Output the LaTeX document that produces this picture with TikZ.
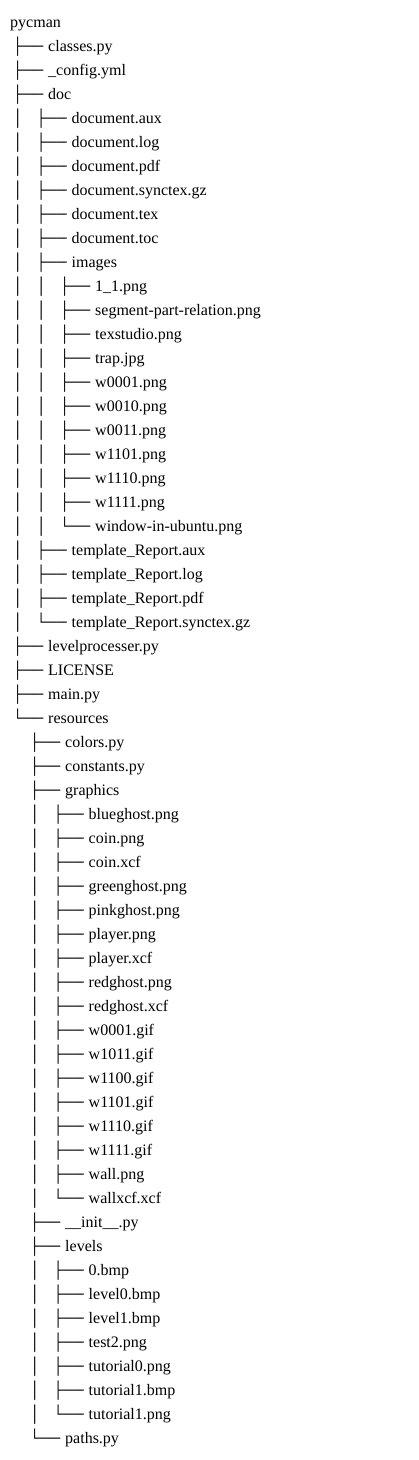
\documentclass[tikz,border=0pt]{standalone}
\usepackage{fontspec}
\setmainfont{Liberation Serif}
\usepackage{graphicx}
\usepackage{tikz}
\usetikzlibrary{positioning}

% pieces of the tree prefix
\newcommand{\tv}{\makebox[23.5pt][l]{\hspace*{2pt}│}}
\newcommand{\ts}{\hspace*{17pt}}
\newcommand{\tb}{\makebox[38pt][l]{\hspace*{2.5pt}\scalebox{0.9}[1]{├──}}}
\newcommand{\tl}{\makebox[38pt][l]{\hspace*{2.5pt}\scalebox{0.9}[1]{└──}}}

\begin{document}
\begin{tikzpicture}[x=1pt,y=1pt,
	entry/.style={anchor=base west,inner sep=0pt,font=\fontsize{16}{24}\selectfont}]
			\begingroup
			\useasboundingbox[fill=white] (0,0) rectangle (418,-1460);
			
			\node[entry] (pycman) at (10, -27) {pycman};
			\node[entry] (classes) at (10, -51) {\tb classes.py};
			\node[entry] (config) at (10, -75) {\tb \_config.yml};
			\node[entry] (doc) at (10, -99) {\tb doc};
			\node[entry] (docaux) at (10, -123) {\tv\tb document.aux};
			\node[entry] (doclog) at (10, -147) {\tv\tb document.log};
			\node[entry] (docpdf) at (10, -171) {\tv\tb document.pdf};
			\node[entry] (docsync) at (10, -195) {\tv\tb document.synctex.gz};
			\node[entry] (doctex) at (10, -219) {\tv\tb document.tex};
			\node[entry] (doctoc) at (10, -243) {\tv\tb document.toc};
			\node[entry] (images) at (10, -267) {\tv\tb images};
			\node[entry] (imgone) at (10, -291) {\tv\tv\tb 1\_1.png};
			\node[entry] (imgseg) at (10, -315) {\tv\tv\tb segment-part-relation.png};
			\node[entry] (imgtex) at (10, -339) {\tv\tv\tb texstudio.png};
			\node[entry] (imgtrap) at (10, -363) {\tv\tv\tb trap.jpg};
			\node[entry] (imgw0001) at (10, -387) {\tv\tv\tb w0001.png};
			\node[entry] (imgw0010) at (10, -411) {\tv\tv\tb w0010.png};
			\node[entry] (imgw0011) at (10, -435) {\tv\tv\tb w0011.png};
			\node[entry] (imgw1101) at (10, -459) {\tv\tv\tb w1101.png};
			\node[entry] (imgw1110) at (10, -483) {\tv\tv\tb w1110.png};
			\node[entry] (imgw1111) at (10, -507) {\tv\tv\tb w1111.png};
			\node[entry] (imgwin) at (10, -531) {\tv\tv\tl window-in-ubuntu.png};
			\node[entry] (tplaux) at (10, -555) {\tv\tb template\_Report.aux};
			\node[entry] (tpllog) at (10, -579) {\tv\tb template\_Report.log};
			\node[entry] (tplpdf) at (10, -603) {\tv\tb template\_Report.pdf};
			\node[entry] (tplsync) at (10, -627) {\tv\tl template\_Report.synctex.gz};
			\node[entry] (levelproc) at (10, -651) {\tb levelprocesser.py};
			\node[entry] (license) at (10, -675) {\tb LICENSE};
			\node[entry] (mainpy) at (10, -699) {\tb main.py};
			\node[entry] (resources) at (10, -723) {\tl resources};
			\node[entry] (colors) at (10, -747) {\ts\tb colors.py};
			\node[entry] (constants) at (10, -771) {\ts\tb constants.py};
			\node[entry] (graphics) at (10, -795) {\ts\tb graphics};
			\node[entry] (blueghost) at (10, -819) {\ts\tv\tb blueghost.png};
			\node[entry] (coinpng) at (10, -843) {\ts\tv\tb coin.png};
			\node[entry] (coinxcf) at (10, -867) {\ts\tv\tb coin.xcf};
			\node[entry] (greenghost) at (10, -891) {\ts\tv\tb greenghost.png};
			\node[entry] (pinkghost) at (10, -915) {\ts\tv\tb pinkghost.png};
			\node[entry] (playerpng) at (10, -939) {\ts\tv\tb player.png};
			\node[entry] (playerxcf) at (10, -963) {\ts\tv\tb player.xcf};
			\node[entry] (redghostpng) at (10, -987) {\ts\tv\tb redghost.png};
			\node[entry] (redghostxcf) at (10, -1011) {\ts\tv\tb redghost.xcf};
			\node[entry] (gifw0001) at (10, -1035) {\ts\tv\tb w0001.gif};
			\node[entry] (gifw1011) at (10, -1059) {\ts\tv\tb w1011.gif};
			\node[entry] (gifw1100) at (10, -1083) {\ts\tv\tb w1100.gif};
			\node[entry] (gifw1101) at (10, -1107) {\ts\tv\tb w1101.gif};
			\node[entry] (gifw1110) at (10, -1131) {\ts\tv\tb w1110.gif};
			\node[entry] (gifw1111) at (10, -1155) {\ts\tv\tb w1111.gif};
			\node[entry] (wallpng) at (10, -1179) {\ts\tv\tb wall.png};
			\node[entry] (wallxcf) at (10, -1203) {\ts\tv\tl wallxcf.xcf};
			\node[entry] (init) at (10, -1227) {\ts\tb \_\_init\_\_.py};
			\node[entry] (levels) at (10, -1251) {\ts\tb levels};
			\node[entry] (bmpzero) at (10, -1275) {\ts\tv\tb 0.bmp};
			\node[entry] (levelzero) at (10, -1299) {\ts\tv\tb level0.bmp};
			\node[entry] (levelone) at (10, -1323) {\ts\tv\tb level1.bmp};
			\node[entry] (testtwo) at (10, -1347) {\ts\tv\tb test2.png};
			\node[entry] (tutzeropng) at (10, -1371) {\ts\tv\tb tutorial0.png};
			\node[entry] (tutonebmp) at (10, -1395) {\ts\tv\tb tutorial1.bmp};
			\node[entry] (tutonepng) at (10, -1419) {\ts\tv\tl tutorial1.png};
			\node[entry] (paths) at (10, -1443) {\ts\tl paths.py};
			
			\endgroup
\end{tikzpicture}
\end{document}
